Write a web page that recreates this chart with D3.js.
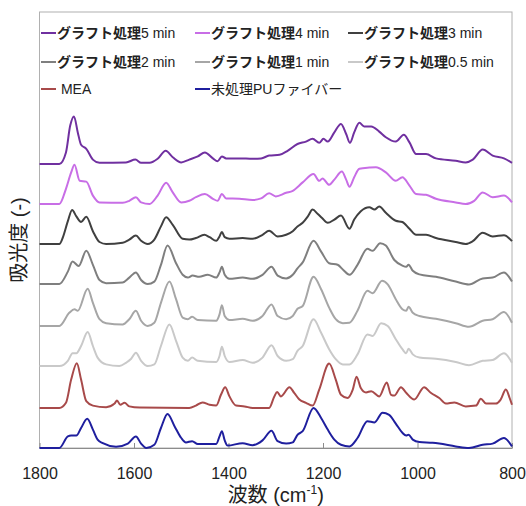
<!DOCTYPE html>
<html>
<head>
<meta charset="utf-8">
<script src="https://cdn.jsdelivr.net/npm/d3@7"></script>
<style>
  body { margin: 0; background: #fff; }
  svg text { font-family: "Liberation Sans", "Noto Sans CJK JP", sans-serif; fill: #222; }
</style>
</head>
<body>
<div id="chart"></div>
<script>
// spectra: [wavenumber, absorbance]
var pu = [[1800,0],[1758,0],[1740,0.29],[1733,0.31],[1722,0.31],[1712,0.5],[1699,0.73],[1687,0.46],[1677,0.21],[1666,0.12],[1638,0.03],[1613,0.11],[1596,0.29],[1585,0.11],[1574,0],[1557,0.08],[1543,0.5],[1529,0.85],[1514,0.54],[1500,0.25],[1490,0.14],[1477,0.17],[1465,0.1],[1426,0.1],[1419,0.29],[1414,0.42],[1408,0.19],[1402,0.06],[1370,0.12],[1349,0.07],[1328,0.19],[1309,0.43],[1296,0.17],[1278,0.11],[1264,0.14],[1254,0.33],[1243,0.42],[1220,1.0],[1204,0.75],[1190,0.46],[1176,0.21],[1162,0.08],[1144,0.04],[1127,0.25],[1106,0.67],[1091,0.64],[1074,0.88],[1060,0.83],[1046,0.61],[1032,0.38],[1024,0.31],[1019,0.33],[1010,0.21],[996,0.15],[968,0.13],[954,0.11],[919,0.04],[891,0],[862,0.08],[841,0.11],[817,0.25],[800,0.04]];

var mea = [[1800,0],[1758,0],[1744,0.13],[1733,0.71],[1721,1.12],[1712,0.71],[1701,0.17],[1687,0.06],[1659,0.02],[1641,0.11],[1636,0.19],[1629,0.08],[1620,0.13],[1610,0.04],[1588,0.01],[1483,0],[1469,0.06],[1455,0.14],[1440,0.08],[1426,0.06],[1416,0.33],[1407,0.52],[1398,0.29],[1384,0.06],[1366,0.04],[1349,0],[1314,0],[1303,0.29],[1297,0.4],[1289,0.29],[1271,0.52],[1261,0.38],[1250,0.21],[1236,0.13],[1222,0.06],[1208,0.46],[1187,1.11],[1173,0.71],[1162,0.33],[1148,0.25],[1137,0.46],[1129,0.78],[1120,0.5],[1109,0.39],[1098,0.42],[1081,0.29],[1065,0.64],[1056,0.33],[1049,0.31],[1035,0.52],[1024,0.38],[1007,0.21],[986,0.52],[972,0.38],[954,0.25],[940,0.11],[922,0.14],[898,0.04],[876,0.06],[866,0.23],[855,0.11],[834,0.11],[824,0.21],[813,0.46],[805,0.25],[800,0.08]];

var min05 = [[1800,0],[1758,0],[1740,0.13],[1730,0.32],[1722,0.32],[1712,0.5],[1698,0.85],[1687,0.5],[1677,0.21],[1659,0.04],[1631,0],[1617,0.08],[1606,0.18],[1596,0.33],[1585,0.13],[1571,0],[1557,0.04],[1543,0.5],[1525,1.04],[1511,0.63],[1497,0.21],[1486,0.13],[1477,0.21],[1465,0.13],[1426,0.1],[1419,0.25],[1414,0.48],[1408,0.25],[1398,0.1],[1370,0.15],[1349,0.08],[1328,0.21],[1309,0.52],[1296,0.25],[1278,0.13],[1264,0.17],[1254,0.38],[1243,0.5],[1220,1.17],[1204,0.83],[1187,0.42],[1173,0.17],[1158,0.04],[1144,0.04],[1127,0.29],[1106,0.79],[1095,0.75],[1077,1.07],[1063,1.0],[1046,0.67],[1032,0.42],[1024,0.32],[1019,0.43],[1010,0.29],[996,0.21],[961,0.18],[919,0.1],[891,0.02],[862,0.13],[841,0.15],[817,0.32],[800,0.08]];

var min1 = [[1800,0],[1758,0],[1737,0.33],[1726,0.42],[1719,0.38],[1698,0.93],[1687,0.58],[1673,0.17],[1659,0.07],[1624,0.04],[1610,0.17],[1596,0.38],[1585,0.13],[1571,0],[1557,0.08],[1543,0.58],[1525,1.11],[1511,0.67],[1497,0.21],[1486,0.17],[1477,0.23],[1465,0.15],[1426,0.13],[1419,0.29],[1414,0.52],[1408,0.25],[1398,0.15],[1370,0.18],[1349,0.13],[1328,0.25],[1309,0.54],[1296,0.25],[1278,0.17],[1264,0.25],[1254,0.43],[1243,0.5],[1220,1.23],[1204,0.92],[1187,0.46],[1173,0.17],[1158,0.07],[1144,0.08],[1127,0.38],[1106,0.88],[1095,0.82],[1075,1.13],[1063,1.04],[1046,0.67],[1032,0.42],[1024,0.38],[1019,0.48],[1010,0.33],[996,0.25],[961,0.18],[919,0.07],[891,-0.02],[862,0.13],[841,0.17],[817,0.35],[800,0.08]];

var min2 = [[1800,0],[1758,0],[1740,0.31],[1730,0.56],[1717,0.45],[1701,0.83],[1687,0.48],[1673,0.1],[1659,0.02],[1624,0.04],[1610,0.16],[1596,0.29],[1585,0.1],[1571,0],[1557,0.06],[1543,0.48],[1529,0.96],[1511,0.52],[1497,0.23],[1486,0.16],[1476,0.21],[1462,0.18],[1444,0.23],[1426,0.16],[1419,0.29],[1414,0.43],[1408,0.23],[1398,0.13],[1370,0.16],[1349,0.13],[1328,0.23],[1309,0.43],[1296,0.21],[1278,0.14],[1264,0.23],[1254,0.39],[1243,0.54],[1220,1.08],[1204,0.81],[1187,0.52],[1169,0.48],[1157,0.35],[1144,0.23],[1127,0.48],[1106,0.88],[1095,0.83],[1079,1.02],[1067,0.96],[1049,0.6],[1032,0.46],[1024,0.43],[1019,0.48],[1010,0.33],[996,0.24],[961,0.18],[919,0.06],[891,-0.01],[862,0.14],[841,0.16],[817,0.29],[800,0.06]];

var min3 = [[1800,0],[1758,0],[1751,0.15],[1740,0.57],[1731,0.85],[1722,0.69],[1712,0.55],[1701,0.68],[1687,0.32],[1673,0.05],[1659,0],[1624,0.03],[1610,0.11],[1596,0.21],[1585,0.08],[1571,0],[1557,0.11],[1543,0.44],[1532,0.67],[1518,0.48],[1497,0.13],[1483,0.11],[1469,0.15],[1451,0.23],[1440,0.17],[1426,0.08],[1419,0.19],[1414,0.3],[1408,0.17],[1398,0.13],[1370,0.15],[1349,0.13],[1328,0.23],[1314,0.33],[1296,0.19],[1278,0.23],[1264,0.32],[1254,0.44],[1243,0.53],[1232,0.69],[1222,0.86],[1211,0.75],[1202,0.65],[1190,0.53],[1176,0.61],[1162,0.71],[1144,0.38],[1134,0.61],[1120,0.82],[1102,0.92],[1091,0.86],[1081,0.94],[1067,0.78],[1046,0.58],[1032,0.55],[1017,0.38],[1003,0.23],[982,0.23],[961,0.15],[919,0.05],[898,0],[883,0.07],[862,0.28],[841,0.19],[817,0.22],[800,0.07]];

var min4 = [[1800,0],[1758,0],[1744,0.38],[1733,0.79],[1726,0.98],[1715,0.58],[1701,0.56],[1687,0.21],[1673,0.04],[1624,0.03],[1610,0.08],[1596,0.17],[1585,0.04],[1567,0],[1550,0.21],[1532,0.53],[1518,0.29],[1500,0.04],[1483,0.08],[1469,0.17],[1450,0.25],[1433,0.13],[1423,0.08],[1414,0.25],[1405,0.14],[1377,0.13],[1349,0.1],[1331,0.14],[1314,0.27],[1300,0.19],[1278,0.28],[1264,0.33],[1243,0.54],[1220,0.75],[1208,0.58],[1201,0.64],[1187,0.48],[1176,0.61],[1160,0.81],[1151,0.61],[1144,0.43],[1134,0.67],[1123,0.88],[1102,0.91],[1088,0.92],[1067,0.79],[1046,0.58],[1032,0.67],[1017,0.46],[1003,0.25],[982,0.23],[961,0.13],[919,0.04],[898,0],[880,0.08],[862,0.29],[841,0.17],[817,0.21],[800,0.04]];

var min5 = [[1800,0],[1758,0],[1744,0.29],[1735,0.96],[1727,1.19],[1719,0.79],[1712,0.48],[1701,0.38],[1687,0.11],[1673,0.03],[1617,0.04],[1597,0.11],[1585,0.03],[1567,0.03],[1550,0.13],[1533,0.33],[1518,0.17],[1500,0.04],[1483,0.11],[1465,0.19],[1450,0.29],[1433,0.14],[1423,0.07],[1414,0.19],[1405,0.14],[1377,0.14],[1349,0.13],[1331,0.14],[1314,0.21],[1292,0.23],[1275,0.33],[1254,0.5],[1236,0.56],[1222,0.63],[1208,0.53],[1199,0.63],[1190,0.56],[1176,0.79],[1162,1.0],[1151,0.75],[1143,0.53],[1134,0.79],[1123,1.03],[1113,0.94],[1098,0.94],[1081,0.81],[1067,0.67],[1046,0.56],[1029,0.73],[1017,0.54],[1003,0.25],[982,0.25],[961,0.14],[919,0.08],[898,0.04],[883,0.11],[862,0.36],[841,0.21],[817,0.14],[800,0.03]];

var names = ["グラフト処理5 min", "グラフト処理4 min", "グラフト処理3 min",
             "グラフト処理2 min", "グラフト処理1 min", "グラフト処理0.5 min",
             "MEA", "未処理PUファイバー"];
var spectra = [min5, min4, min3, min2, min1, min05, mea, pu];
var offsets = [7.1, 6.1, 5.1, 4.1, 3.05, 2.05, 1.0, 0];
var colors = ["#7030a0", "#c86ee6", "#404040", "#7f7f7f", "#a6a6a6", "#c9c9c9", "#a84a4a", "#1f1f9e"];
var xTicks = [1800, 1600, 1400, 1200, 1000, 800];

var svgWidth = 526;
var svgHeight = 506;
var margin = { top: 12, right: 14, bottom: 58, left: 39.5 };
var width = svgWidth - margin.left - margin.right;
var height = svgHeight - margin.top - margin.bottom;

var svg = d3.select("#chart")
  .append("svg")
  .attr("width", svgWidth)
  .attr("height", svgHeight);

var chartGroup = svg.append("g")
  .attr("transform", `translate(${margin.left}, ${margin.top})`);

var xScale = d3.scaleLinear().domain([1800, 800]).range([0, width]);
var yScale = d3.scaleLinear().domain([0, height / 40]).range([height, 0]);

// frame
chartGroup.append("rect")
  .attr("width", width)
  .attr("height", height)
  .attr("fill", "none")
  .attr("stroke", "#b0b0b0")
  .attr("stroke-width", 1);

// bottom axis, ticks pointing in
var bottomAxis = d3.axisBottom(xScale)
  .tickValues(xTicks)
  .tickSizeInner(-5)
  .tickSizeOuter(0)
  .tickPadding(20)
  .tickFormat(d3.format("d"));

var xAxisG = chartGroup.append("g")
  .attr("transform", `translate(0, ${height})`)
  .call(bottomAxis);
xAxisG.select(".domain").attr("stroke", "#8c8c8c");
xAxisG.selectAll(".tick line").attr("stroke", "#8c8c8c");
xAxisG.selectAll(".tick text")
  .attr("font-size", 16)
  .attr("font-family", "Liberation Sans, sans-serif")
  .attr("fill", "#222");

// spectra lines
var line = d3.line()
  .x(d => xScale(d[0]))
  .y(d => yScale(d[1]))
  .curve(d3.curveMonotoneX);

spectra.forEach(function(s, i) {
  chartGroup.append("path")
    .datum(s.map(d => [d[0], d[1] + offsets[i]]))
    .attr("d", line)
    .attr("fill", "none")
    .attr("stroke", colors[i])
    .attr("stroke-width", 2)
    .attr("stroke-linejoin", "round");
});

// legend
var legendCols = [41, 195, 348];
var legendRows = [33, 62, 89];
names.forEach(function(name, i) {
  var lx = legendCols[i % 3];
  var ly = legendRows[Math.floor(i / 3)];
  svg.append("line")
    .attr("x1", lx).attr("x2", lx + 15)
    .attr("y1", ly).attr("y2", ly)
    .attr("stroke", colors[i])
    .attr("stroke-width", 2);
  var t = svg.append("text")
    .attr("x", lx + 16)
    .attr("y", ly + 5)
    .attr("font-size", 14)
    .style("white-space", "pre");
  if (name.indexOf("グラフト処理") === 0) {
    t.append("tspan").attr("font-weight", "bold").text("グラフト処理");
    t.append("tspan").text(name.slice(6));
  } else if (name === "MEA") {
    t.text(" MEA");
  } else {
    t.text(name);
  }
});

// axis titles
var xTitle = svg.append("text")
  .attr("x", margin.left + width / 2)
  .attr("y", 502)
  .attr("text-anchor", "middle")
  .attr("font-size", 20);
xTitle.append("tspan").text("波数 (cm");
xTitle.append("tspan").attr("font-size", 12).attr("dy", -8).text("-1");
xTitle.append("tspan").attr("dy", 8).text(")");

svg.append("text")
  .attr("transform", `translate(26, ${margin.top + height / 2 + 10}) rotate(-90)`)
  .attr("text-anchor", "middle")
  .attr("font-size", 20)
  .text("吸光度 (-)");
</script>
</body>
</html>
